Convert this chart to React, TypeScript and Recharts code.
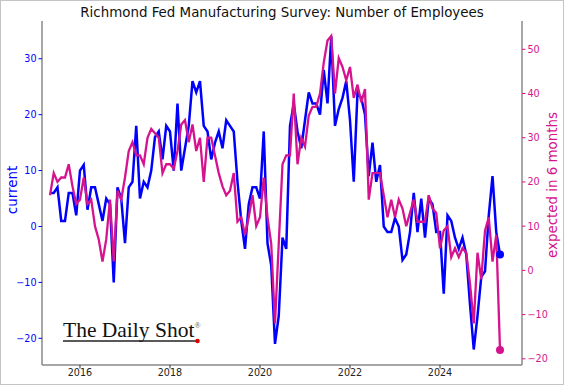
import React from 'react';
import { ComposedChart, Line, XAxis, YAxis } from 'recharts';

// Monthly observations, May 2015 .. May 2025
const START_YEAR = 2015;
const START_MONTH = 5;

const current = [
  6, 6, 7, 1, 1, 6, 6, 2, 10, 11,
  3, 7, 7, 4, 1, 5, 4, -10, 7, 5,
  -3, 7, 8, 18, 5, 8, 7, 10, 16, 17,
  12, 18, 17, 10, 22, 10, 14, 18, 26, 24,
  26, 18, 17, 12, 15, 17, 14, 19, 18, 17,
  8, 1, -4, 4, 7, 7, 5, 17, -3, -7,
  -21, -16, -2, -4, 18, 22, 17, 14, 19, 24,
  22, 22, 20, 28, 22, 34, 18, 21, 23, 26,
  19, 8, 24, 23, 20, 9, 15, 8, 11, 0,
  -1, -1, 1.5, 0, -6, -5, -1, 6, -1, 5,
  -2, 5, 4, -1, -1, -12, 2, 1, -2, -4,
  -2, -5, -14, -22, -16, -9, -8, 2, 9, -1, -5,
];

const expected = [
  17, 22, 20, 21, 21, 24, 19, 15, 16, 21,
  15, 16, 10, 7, 2, 7, 16, 2, 18, 16,
  21, 27, 29, 26, 26, 24, 30, 32, 31, 30,
  22, 24, 24, 23, 27, 33, 34, 29, 33, 27,
  30, 20, 30, 30, 26, 22, 19, 17, 18, 22,
  11, 12, 8, 12, 17, 10, 12, 21, 12, 6,
  -12, 6, 24, 26, 26, 40, 24, 30, 28, 35,
  37, 37, 40, 47, 52, 53, 40, 48, 46, 43,
  46, 39, 42, 38, 41, 16, 22, 22, 22, 17,
  12, 16, 12, 16, 14, 10, 13, 16, 11, 11,
  11, 17, 14, 13, 5, 9, 10, 3, 5, 3,
  5, 4, -3, -12, 4, -2, 9, 12, 2, 8, -18,
];

const xTicks = [2016, 2018, 2020, 2022, 2024];
const leftTicks = [-20, -10, 0, 10, 20, 30];
const rightTicks = [-20, -10, 0, 10, 20, 30, 40, 50];

const TITLE = 'Richmond Fed Manufacturing Survey: Number of Employees';
const LEFT_LABEL = 'current';
const RIGHT_LABEL = 'expected in 6 months';

const BLUE = '#0000ff';
const MAG = '#d6138f';
const FRAME = '#8a8a8a';
const FONT = 'DejaVu Sans';

const data = current.map((c, i) => ({
  t: START_YEAR + (START_MONTH - 1 + i) / 12,
  current: c,
  expected: expected[i],
}));

const lastIndex = data.length - 1;

const endDot = (color: string) => (props: any) => {
  const { cx, cy, index } = props;
  if (index !== lastIndex) return <g key={`n${index}`} />;
  return <circle key={`d${index}`} cx={cx} cy={cy} r={4} fill={color} stroke="none" />;
};

export default function App() {
  return (
    <div style={{ position: 'absolute', left: 0, top: 0, width: 564, height: 385, background: '#fff' }}>
      <ComposedChart
        width={564}
        height={385}
        data={data}
        margin={{ top: 21, right: 8, bottom: 0, left: 8 }}
      >
        <XAxis
          xAxisId="b"
          dataKey="t"
          type="number"
          domain={[2015.156, 2025.822]}
          allowDataOverflow
          ticks={xTicks}
          height={20}
          tickFormatter={(v: number) => String(v)}
          axisLine={{ stroke: FRAME, strokeWidth: 1.5 }}
          tickLine={{ stroke: '#333' }}
          tickSize={3.5}
          tickMargin={1}
          tick={{ fill: '#222', fontSize: 9.6, fontFamily: FONT }}
        />
        <XAxis
          xAxisId="top"
          dataKey="t"
          type="number"
          orientation="top"
          domain={[2015.156, 2025.822]}
          allowDataOverflow
          height={0}
          tick={false}
          tickLine={false}
          axisLine={{ stroke: FRAME, strokeWidth: 1.5 }}
        />
        <YAxis
          yAxisId="l"
          orientation="left"
          width={34}
          domain={[-24.77, 36.75]}
          allowDataOverflow
          ticks={leftTicks}
          tickFormatter={(v: number) => (v < 0 ? `\u2212${Math.abs(v)}` : String(v))}
          axisLine={{ stroke: FRAME, strokeWidth: 1.5 }}
          tickLine={{ stroke: BLUE }}
          tickSize={3.5}
          tickMargin={2}
          tick={{ fill: BLUE, fontSize: 9.6, fontFamily: FONT }}
        />
        <YAxis
          yAxisId="r"
          orientation="right"
          width={34}
          domain={[-21.4, 56.4]}
          allowDataOverflow
          ticks={rightTicks}
          tickFormatter={(v: number) => (v < 0 ? `\u2212${Math.abs(v)}` : String(v))}
          axisLine={{ stroke: FRAME, strokeWidth: 1.5 }}
          tickLine={{ stroke: MAG }}
          tickSize={3.5}
          tickMargin={2}
          tick={{ fill: MAG, fontSize: 9.6, fontFamily: FONT }}
        />
        <Line
          xAxisId="b"
          yAxisId="l"
          type="linear"
          dataKey="current"
          stroke={BLUE}
          strokeWidth={2.5}
          dot={endDot(BLUE)}
          activeDot={false}
          isAnimationActive={false}
        />
        <Line
          xAxisId="b"
          yAxisId="r"
          type="linear"
          dataKey="expected"
          stroke={MAG}
          strokeWidth={2.3}
          dot={endDot(MAG)}
          activeDot={false}
          isAnimationActive={false}
        />
      </ComposedChart>
      <svg
        width={564}
        height={385}
        style={{ position: 'absolute', left: 0, top: 0, pointerEvents: 'none' }}
      >
        <text x={282} y={17} textAnchor="middle" fontFamily={FONT} fontSize={13.4} fill="#111">
          {TITLE}
        </text>
        <text
          x={0}
          y={0}
          transform="translate(17,190) rotate(-90)"
          textAnchor="middle"
          fontFamily={FONT}
          fontSize={13.4}
          fill={BLUE}
        >
          {LEFT_LABEL}
        </text>
        <text
          x={0}
          y={0}
          transform="translate(557,185) rotate(-90)"
          textAnchor="middle"
          fontFamily={FONT}
          fontSize={13.4}
          fill={MAG}
        >
          {RIGHT_LABEL}
        </text>
        <text x={63} y={337} fontFamily="Liberation Serif" fontSize={21.5} fill="#111">
          The Daily Shot
          <tspan fontSize={8} dy={-9} fill="#555">®</tspan>
        </text>
        <line x1={63} x2={196} y1={341} y2={341} stroke="#222" strokeWidth={1.3} />
        <circle cx={197.5} cy={341} r={2.3} fill="#e00000" />
      </svg>
      <div
        style={{
          position: 'absolute',
          left: 0,
          top: 0,
          width: 564,
          height: 385,
          boxSizing: 'border-box',
          border: '1px solid #c4c4c4',
          pointerEvents: 'none',
        }}
      />
    </div>
  );
}
